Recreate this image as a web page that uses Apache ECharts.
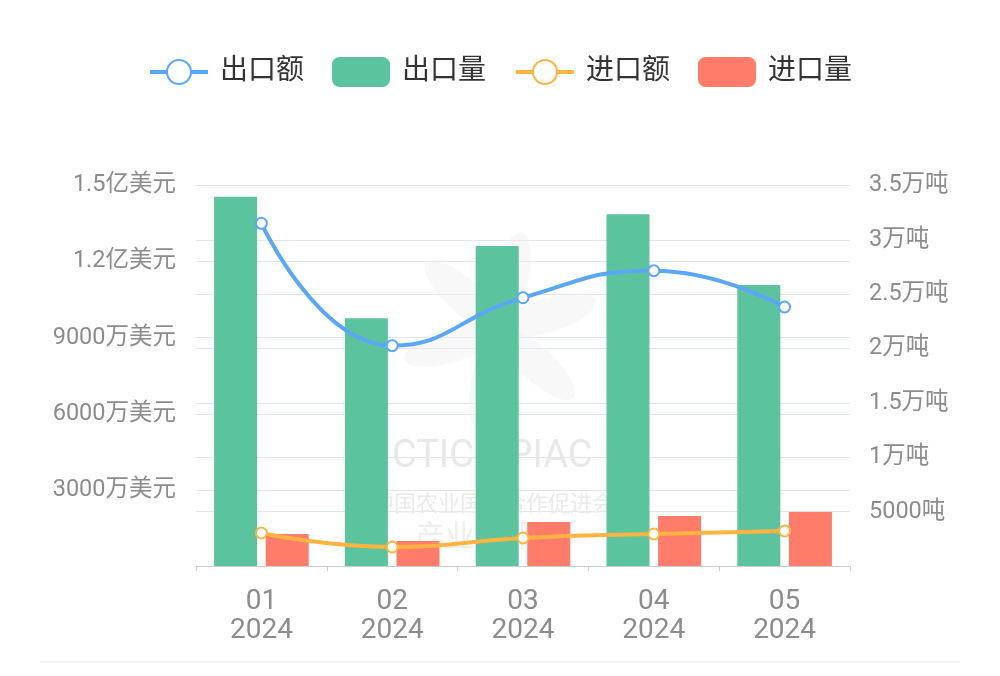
<!DOCTYPE html>
<html>
<head>
<meta charset="utf-8">
<script src="https://cdn.jsdelivr.net/npm/echarts@6/dist/echarts.min.js"></script>
<style>
html,body{margin:0;padding:0;background:#fff;}
#chart{width:1000px;height:676px;}
</style>
</head>
<body>
<div id="chart"></div>
<script>
// ---- data ----
const months = ['01', '02', '03', '04', '05'];
const years = ['2024', '2024', '2024', '2024', '2024'];
// 出口额 / 进口额 in 万美元
const exportValue = [13510, 8685, 10577, 11642, 10210];
const importValue = [1301, 749, 1104, 1261, 1380];
// 出口量 / 进口量 in 吨
const exportVolume = [33970, 22785, 29435, 32350, 25848];
const importVolume = [2943, 2300, 4047, 4600, 4967];
const seriesNames = ['出口额', '出口量', '进口额', '进口量'];

const categories = months.map((m, i) => m + '\n' + years[i]);
const FONT = 'Roboto, "Noto Sans CJK SC", sans-serif';

function leftFmt(v) {
  if (v === 0) return '';
  if (v >= 10000) return (v / 10000) + '亿美元';
  return v + '万美元';
}
function rightFmt(v) {
  if (v === 0) return '';
  if (v >= 10000) return (v / 10000) + '万吨';
  return v + '吨';
}

const chart = echarts.init(document.getElementById('chart'));
const leafs = [];
for (let k = 0; k < 6; k++) {
  leafs.push({
    type: 'ellipse', z: 1, silent: true,
    x: 500, y: 330, rotation: k * Math.PI / 3 + 0.3,
    shape: { cx: 50, cy: 0, rx: 50, ry: 17 },
    style: { fill: '#f0f0f0', opacity: 0.45 }
  });
}
chart.setOption({
  backgroundColor: '#ffffff',
  textStyle: { fontFamily: FONT },
  color: ['#5AA7F7', '#5BC49F', '#FFB340', '#FF7C6B'],
  legend: {
    data: seriesNames,
    top: 52,
    left: 'center',
    itemWidth: 58,
    itemHeight: 30,
    itemGap: 28,
    lineStyle: { width: 4 },
    textStyle: { fontSize: 28, color: '#333', fontFamily: FONT, padding: [0, 0, 0, 7] }
  },
  graphic: leafs.concat([
    { type: 'text', z: 1, silent: true, left: 392, top: 438,
      style: { text: 'CTICC·PIAC', font: '38px ' + FONT, fill: '#e8e8e8' } },
    { type: 'text', z: 1, silent: true, left: 372, top: 492,
      style: { text: '中国农业国际合作促进会', font: '22px "Noto Sans CJK SC"', fill: '#eaeaea' } },
    { type: 'text', z: 1, silent: true, left: 415, top: 520,
      style: { text: '产业 国 际', font: '30px "Noto Sans CJK SC"', fill: '#eeeeee' } },
    { type: 'line', z: 1, silent: true,
      shape: { x1: 40, y1: 662, x2: 960, y2: 662 },
      style: { stroke: '#eeeeee', lineWidth: 1.5 } }
  ]),
  grid: { left: 196, right: 150, top: 185.5, bottom: 110, containLabel: false },
  xAxis: {
    type: 'category',
    data: categories,
    axisLine: { lineStyle: { color: '#cccccc' } },
    axisTick: { show: true, alignWithLabel: false, lineStyle: { color: '#cccccc' } },
    axisLabel: { fontSize: 28, lineHeight: 29, color: '#8c8c8c', margin: 21, fontFamily: FONT }
  },
  yAxis: [
    {
      type: 'value', min: 0, max: 15000, interval: 3000,
      axisLine: { show: false }, axisTick: { show: false },
      axisLabel: { formatter: leftFmt, fontSize: 23.5, color: '#8c8c8c', margin: 20, fontFamily: FONT },
      splitLine: { lineStyle: { color: '#E0E6F1' } }
    },
    {
      type: 'value', min: 0, max: 35000, interval: 5000,
      axisLine: { show: false }, axisTick: { show: false },
      axisLabel: { formatter: rightFmt, fontSize: 23.5, color: '#8c8c8c', margin: 19, fontFamily: FONT },
      splitLine: { lineStyle: { color: '#E0E6F1' } }
    }
  ],
  series: [
    {
      name: seriesNames[0], type: 'line', yAxisIndex: 0, data: exportValue,
      smooth: true, z: 4, symbol: 'emptyCircle', symbolSize: 11,
      lineStyle: { width: 4 }, itemStyle: { borderWidth: 3.5 }
    },
    {
      name: seriesNames[1], type: 'bar', yAxisIndex: 1, data: exportVolume,
      barWidth: 43, barGap: '20%'
    },
    {
      name: seriesNames[2], type: 'line', yAxisIndex: 0, data: importValue,
      smooth: true, z: 4, symbol: 'emptyCircle', symbolSize: 11,
      lineStyle: { width: 4 }, itemStyle: { borderWidth: 3.5 }
    },
    {
      name: seriesNames[3], type: 'bar', yAxisIndex: 1, data: importVolume,
      barWidth: 43, barGap: '20%'
    }
  ]
});
</script>
</body>
</html>
